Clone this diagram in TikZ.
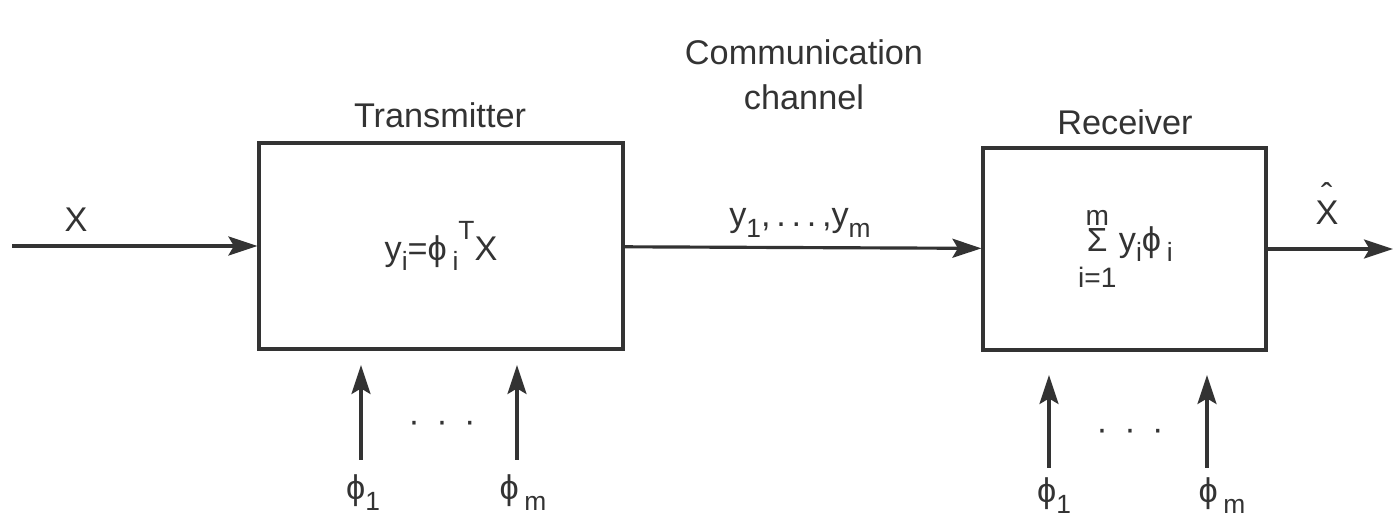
\documentclass[tikz,border=0pt]{standalone}
\usepackage{fontspec}
\setmainfont{Liberation Sans}
\usetikzlibrary{arrows.meta, positioning}
\definecolor{ink}{HTML}{333333}

\newcommand{\lo}[1]{\raisebox{-0.3em}{\fontsize{15}{15}\selectfont #1}}
\newcommand{\hi}[1]{\raisebox{0.62em}{\fontsize{15}{15}\selectfont #1}}
\newcommand{\xhat}{\rlap{\hspace{0.16em}\raisebox{0.5em}{ˆ}}X}
\newcommand{\sumop}{\makebox[0.64cm]{%
    \makebox[0pt]{\raisebox{0.74em}{\fontsize{16}{16}\selectfont m}}%
    \makebox[0pt]{\fontsize{19}{19}\selectfont\symbol{"03A3}}%
    \makebox[0pt]{\raisebox{-1.06em}{\fontsize{16}{16}\selectfont i=1}}}}

\begin{document}
\begin{tikzpicture}[
    font=\fontsize{19.5}{25.5}\selectfont,
    text=ink,
    block/.style={draw=ink, line width=1.8pt, inner sep=0pt},
    arrow/.style={-{Stealth[length=5.8mm, width=3.8mm, inset=1.1mm]}, line width=1.8pt, draw=ink},
    lbl/.style={anchor=base, inner sep=0pt}
]
    \fill[white] (0,0) rectangle (28,10.52);
    \useasboundingbox (0,0) rectangle (28,10.52);

    \node[block, minimum width=7.28cm, minimum height=4.12cm] (tx) at (8.82,5.60) {y\lo{i}=ϕ\,\lo{i}\hi{T}X};
    \node[block, minimum width=5.66cm, minimum height=4.04cm] (rx) at (22.49,5.54)
        {\hspace{0.1cm}\sumop\,y\lo{i}ϕ\,\lo{i}};

    \node[lbl] (txlabel) at (8.80,7.96) {Transmitter};
    \node[lbl] (rxlabel) at (22.50,7.82) {Receiver};
    \node[align=center] (chlabel) at (16.08,9.02) {Communication\\channel};
    \node[lbl] (xlabel) at (1.52,5.88) {X};
    \node[lbl] (ylabel) at (16.00,5.98) {y\lo{1},\,.\,.\,.\,,y\lo{m}};
    \node[lbl] (xhatlabel) at (26.54,6.02) {\xhat};

    \coordinate (xin) at (0.24,5.60);
    \coordinate (xout) at (27.86,5.54);
    \draw[arrow] (xin) -- (tx);
    \draw[arrow] (tx) -- (rx);
    \draw[arrow] (rx) -- (xout);

    \coordinate (tb1) at (7.22,1.32);
    \coordinate (tt1) at (7.22,3.22);
    \coordinate (tbm) at (10.34,1.32);
    \coordinate (ttm) at (10.34,3.22);
    \coordinate (rb1) at (20.98,1.16);
    \coordinate (rt1) at (20.98,3.02);
    \coordinate (rbm) at (24.14,1.16);
    \coordinate (rtm) at (24.14,3.02);
    \draw[arrow] (tb1) -- (tt1);
    \draw[arrow] (tbm) -- (ttm);
    \draw[arrow] (rb1) -- (rt1);
    \draw[arrow] (rbm) -- (rtm);

    \node[lbl] (tphi1) at (7.26,0.52) {ϕ\lo{1}};
    \node[lbl] (tphim) at (10.46,0.52) {ϕ\,\lo{m}};
    \node[lbl] (rphi1) at (21.08,0.46) {ϕ\lo{1}};
    \node[lbl] (rphim) at (24.44,0.46) {ϕ\,\lo{m}};
    \node[lbl] (tdots) at (8.84,1.87) {·\hspace{0.33cm}·\hspace{0.33cm}·};
    \node[lbl] (rdots) at (22.60,1.71) {·\hspace{0.33cm}·\hspace{0.33cm}·};
\end{tikzpicture}
\end{document}
